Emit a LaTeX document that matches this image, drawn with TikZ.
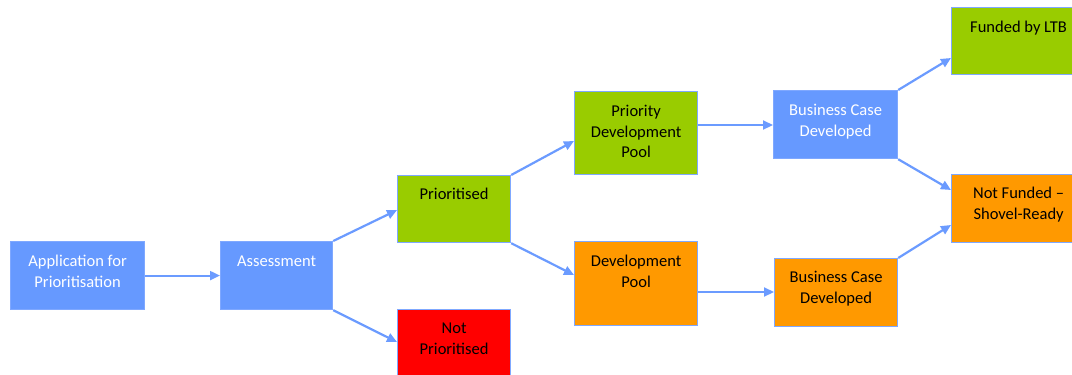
\documentclass[tikz,border=0pt]{standalone}
\usepackage{fontspec}
\setmainfont{Carlito}
\usetikzlibrary{arrows.meta,calc}
\definecolor{bblue}{HTML}{6699FF}
\definecolor{edge}{HTML}{7FA8FF}
\definecolor{lgreen}{HTML}{99CC00}
\definecolor{orng}{HTML}{FF9900}
\definecolor{rred}{HTML}{FF0000}
\definecolor{arr}{HTML}{6B9BFF}
\tikzset{
  box/.style={draw=edge, line width=1.2pt, inner sep=0pt, anchor=north west},
  lbl/.style={anchor=north, inner sep=0pt, align=center, font=\fontsize{16.5}{20.5}\selectfont},
  conn/.style={draw=arr, line width=2.2pt, -{Triangle[length=10pt,width=9pt]}, shorten >=0pt},
}
\newcommand{\bx}[6]{% name, x, y, w, h, fill
  \node[box, fill=#6, minimum width=#4pt, minimum height=#5pt] (#1) at (#2,#3) {};
}
\begin{document}
\begin{tikzpicture}[x=1pt,y=-1pt]
\useasboundingbox (0,0) rectangle (1072,375);
\bx{app}{10}{241}{134}{68}{bblue}
\bx{ass}{220}{241}{112}{68}{bblue}
\bx{pri}{397}{175}{113}{67}{lgreen}
\bx{npr}{397}{309}{113}{80}{rred}
\bx{pdp}{574}{91}{123}{83}{lgreen}
\bx{dp}{574}{241}{123}{84}{orng}
\bx{bcb}{773}{90}{124}{68}{bblue}
\bx{bco}{774}{258}{123}{68}{orng}
\bx{fun}{951}{7}{134}{67}{lgreen}
\bx{nfu}{951}{174}{134}{68}{orng}

\node[lbl, text=white] (tapp) at ($(app.north)+(0,11)$) {\strut Application for\\Prioritisation};
\node[lbl, text=white] (tass) at ($(ass.north)+(0,11)$) {\strut Assessment};
\node[lbl] (tpri) at ($(pri.north)+(0,10)$) {\strut Prioritised};
\node[lbl] (tnpr) at ($(npr.north)+(0,10)$) {\strut Not\\Prioritised};
\node[lbl] (tpdp) at ($(pdp.north)+(0,11)$) {\strut Priority\\Development\\Pool};
\node[lbl] (tdp) at ($(dp.north)+(0,11)$) {\strut Development\\Pool};
\node[lbl, text=white] (tbcb) at ($(bcb.north)+(0,11)$) {\strut Business Case\\Developed};
\node[lbl] (tbco) at ($(bco.north)+(0,10)$) {\strut Business Case\\Developed};
\node[lbl] (tfun) at ($(fun.north)+(0,11)$) {\strut Funded by LTB};
\node[lbl] (tnfu) at ($(nfu.north)+(0,10)$) {\strut Not Funded --\\Shovel-Ready};

\draw[conn] (app.east) -- (ass.west);
\draw[conn] (ass.north east) -- ($(pri.west)+(0,1)$);
\draw[conn] (ass.south east) -- ($(npr.north west)+(0,33)$);
\draw[conn] (pri.north east) -- ($(pdp.north west)+(0,50)$);
\draw[conn] (pri.south east) -- ($(dp.north west)+(0,34)$);
\draw[conn] ($(pdp.north east)+(0,34)$) -- ($(bcb.north west)+(0,35)$);
\draw[conn] ($(dp.north east)+(0,51)$) -- ($(bco.north west)+(0,34)$);
\draw[conn] (bcb.north east) -- ($(fun.north west)+(0,51)$);
\draw[conn] (bcb.south east) -- ($(nfu.north west)+(0,16)$);
\draw[conn] (bco.north east) -- ($(nfu.north west)+(0,51)$);
\end{tikzpicture}
\end{document}
